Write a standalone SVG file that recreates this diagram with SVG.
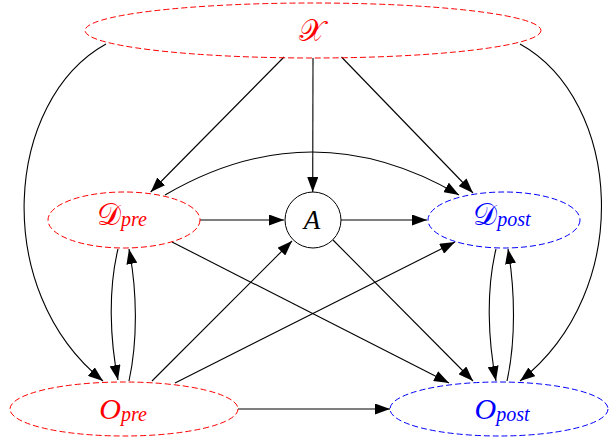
<svg xmlns="http://www.w3.org/2000/svg" width="610" height="441" viewBox="0 0 610 441">
<style>
.n{fill:none;stroke-width:1;stroke-dasharray:6,3}
.r{stroke:#ff0000}
.b{stroke:#0000ff}
.e{fill:none;stroke:#000;stroke-width:1.1;marker-end:url(#ah)}
text{font-family:"Liberation Serif","DejaVu Serif",serif;font-style:italic;text-anchor:middle}
.tr{fill:#ff0000}
.tb{fill:#0000ff}
.cal{font-size:30px;font-style:normal}
.big{font-size:30px}
.sub{font-size:20px}
</style>
<defs>
<marker id="ah" markerWidth="15" markerHeight="11" refX="15" refY="5.5" orient="auto" markerUnits="userSpaceOnUse">
<path d="M0,0 L15,5.5 L0,11 z" fill="#000"/>
</marker>
</defs>
<rect width="610" height="441" fill="#fff"/>
<g id="connectors">
<path class="e" d="M284,57 L150.7,192"/>
<path class="e" d="M313,58 L312.7,192"/>
<path class="e" d="M341.5,57 L473,193"/>
<path class="e" d="M106,44 C5,100 -10,290 103,381"/>
<path class="e" d="M520,44 C621,100 636,290 520,381"/>
<path class="e" d="M165,195 Q312,109 459,195"/>
<path class="e" d="M200,220 L284,220"/>
<path class="e" d="M341,220 L427,220"/>
<path class="e" d="M172,242 L449,383"/>
<path class="e" d="M333,240 L473,381"/>
<path class="e" d="M152,381 L292,241"/>
<path class="e" d="M175,383 L455,242"/>
<path class="e" d="M118,249 C108,290 110,340 118,380"/>
<path class="e" d="M129,381 C138,340 137,290 129,249"/>
<path class="e" d="M496,249 C486,290 488,340 496,381"/>
<path class="e" d="M507,381 C516,340 515,290 508,249"/>
<path class="e" d="M238,409 L390,409"/>
</g>
<g id="X">
<ellipse class="n r" cx="313" cy="30.5" rx="228" ry="27.5"/>
<text class="tr cal" x="312" y="41">𝒳</text>
</g>
<g id="Dpre">
<ellipse class="n r" cx="124" cy="220" rx="76" ry="28"/>
<text class="tr" x="122" y="225"><tspan class="cal">𝒟</tspan><tspan class="sub" dy="1">pre</tspan></text>
</g>
<g id="A">
<circle cx="313" cy="220" r="28" fill="none" stroke="#000"/>
<text x="312" y="229" fill="#000" style="font-size:27px">A</text>
</g>
<g id="Dpost">
<ellipse class="n b" cx="504" cy="220" rx="76" ry="28"/>
<text class="tb" x="502" y="225"><tspan class="cal">𝒟</tspan><tspan class="sub" dy="1">post</tspan></text>
</g>
<g id="Opre">
<ellipse class="n r" cx="124" cy="409" rx="114" ry="27"/>
<text class="tr" x="123" y="419"><tspan class="big">O</tspan><tspan class="sub" dy="2">pre</tspan></text>
</g>
<g id="Opost">
<ellipse class="n b" cx="499" cy="409" rx="109" ry="27"/>
<text class="tb" x="502" y="419"><tspan class="big">O</tspan><tspan class="sub" dy="2">post</tspan></text>
</g>
</svg>
